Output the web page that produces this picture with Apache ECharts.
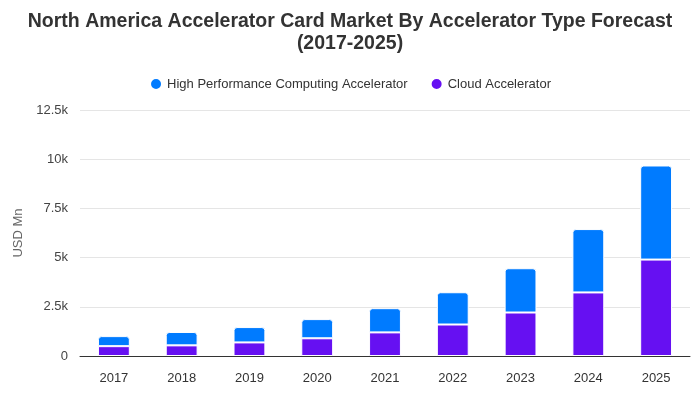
<!DOCTYPE html>
<html><head><meta charset="utf-8">
<script src="https://cdn.jsdelivr.net/npm/echarts@6/dist/echarts.min.js"></script>
<style>html,body{margin:0;padding:0;background:#fff}#c{width:700px;height:400px}</style>
</head><body><div id="c"></div>
<script>
var categories = ['2017','2018','2019','2020','2021','2022','2023','2024','2025'];
var cloudValues = [500, 540, 690, 900, 1200, 1600, 2210, 3230, 4900];
var hpcValues = [510, 680, 780, 975, 1230, 1640, 2250, 3220, 4780];
var yTicks = ['0','2.5k','5k','7.5k','10k','12.5k'];

var chart = echarts.init(document.getElementById('c'));
chart.setOption({
  animation: false,
  title: {
    text: 'North America Accelerator Card Market By Accelerator Type Forecast\n(2017-2025)',
    left: 'center', top: 6,
    textStyle: {fontFamily: 'Liberation Sans, Arial', fontSize: 19.5, fontWeight: 'bold', color: '#333', lineHeight: 22}
  },
  legend: {
    data: ['High Performance Computing Accelerator', 'Cloud Accelerator'],
    top: 72, left: 'center', icon: 'circle', itemWidth: 12, itemHeight: 12, itemGap: 22,
    textStyle: {fontFamily: 'Liberation Sans, Arial', fontSize: 13, color: '#333'}
  },
  grid: {left: 80, right: 10, top: 110, bottom: 44},
  xAxis: {
    type: 'category', data: categories,
    axisLine: {lineStyle: {color: '#333'}},
    axisTick: {show: false},
    axisLabel: {fontFamily: 'Liberation Sans, Arial', fontSize: 13, color: '#333', margin: 16}
  },
  yAxis: {
    type: 'value', min: 0, max: 12500, interval: 2500,
    name: 'USD Mn', nameLocation: 'middle', nameGap: 49,
    nameTextStyle: {fontFamily: 'Liberation Sans, Arial', fontSize: 13, color: '#666'},
    axisLabel: {fontFamily: 'Liberation Sans, Arial', fontSize: 13, color: '#444', margin: 12,
      formatter: function(v){ return yTicks[Math.round(v/2500)]; }},
    splitLine: {lineStyle: {color: '#e5e5e5'}},
    axisLine: {show: false}, axisTick: {show: false}
  },
  series: [
    {name: 'Cloud Accelerator', type: 'bar', stack: 't', data: cloudValues, barWidth: '47%',
     itemStyle: {color: '#6610f2', borderColor: '#fff', borderWidth: 1}},
    {name: 'High Performance Computing Accelerator', type: 'bar', stack: 't', data: hpcValues, barWidth: '47%',
     itemStyle: {color: '#007bff', borderColor: '#fff', borderWidth: 1, borderRadius: [3,3,0,0]}}
  ]
});
</script></body></html>
